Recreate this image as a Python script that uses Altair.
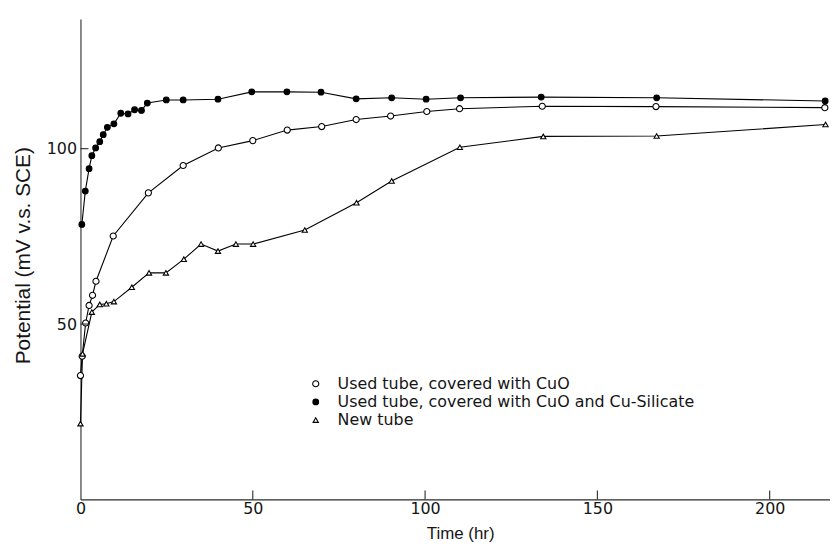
import altair as alt
import pandas as pd

series_names = [
    "Used tube, covered with CuO",
    "Used tube, covered with CuO and Cu-Silicate",
    "New tube",
]

# Used tube, covered with CuO (open circles)
t_cuo = [0, 0.5, 1.5, 2.5, 3.5, 4.5, 9.5, 19.7, 29.8, 40, 50, 60, 70, 80, 90, 100.5, 110, 134, 167, 216]
v_cuo = [35.3, 40.8, 50.3, 55.3, 58.2, 62.2, 75.1, 87.4, 95.2, 100.2, 102.3, 105.3, 106.3, 108.3, 109.3, 110.6, 111.4, 112.1, 112.0, 111.7]

# Used tube, covered with CuO and Cu-Silicate (filled circles)
t_sil = [0.4, 1.4, 2.5, 3.3, 4.4, 5.6, 6.6, 7.8, 9.7, 11.7, 13.8, 15.7, 17.7, 19.4, 24.9, 29.8, 39.9,
         49.7, 59.9, 69.8, 80, 90.3, 100.3, 110.3, 133.7, 167.2, 216.1]
v_sil = [78.4, 87.9, 94.3, 98.0, 100.2, 102.0, 104.0, 106.1, 107.1, 110.1, 109.9, 111.1, 110.9, 113.0,
         113.9, 113.9, 114.1, 116.2, 116.2, 116.1, 114.2, 114.5, 114.1, 114.5, 114.7, 114.5, 113.6]

# New tube (open triangles)
t_new = [0, 0.6, 3.3, 5.6, 7.5, 9.7, 14.9, 19.9, 24.8, 30, 35, 39.9, 45.1, 50.1, 65.1, 80.1, 90.3,
         110.1, 134.3, 167.2, 216.2]
v_new = [21.6, 41.5, 53.4, 55.6, 55.8, 56.4, 60.5, 64.6, 64.6, 68.5, 72.8, 70.8, 72.8, 72.8, 76.8,
         84.6, 90.8, 100.4, 103.5, 103.6, 106.9]

x_tick_values = [50, 100, 150, 200]
x_label_values = [0, 50, 100, 150, 200]
y_tick_values = [50, 100]

rows = []
for name, ts, vs in zip(series_names, [t_cuo, t_sil, t_new], [v_cuo, v_sil, v_new]):
    for t, v in zip(ts, vs):
        rows.append({"series": name, "time": t, "potential": v})
df = pd.DataFrame(rows)

W, H = 755, 484
x_scale = alt.Scale(domain=[0, 217.5], nice=False, zero=False)
y_scale = alt.Scale(domain=[0, 137], nice=False, zero=False)

INK = "#151515"

x_axis = alt.Axis(
    values=x_label_values, format="d", ticks=False, tickSize=0, grid=False,
    labelFlush=False, domainColor="#2a2a2a", domainWidth=1.1,
    labelFont="DejaVu Sans", labelFontSize=16, labelColor=INK, labelPadding=1,
    title="Time (hr)", titleFont="Liberation Sans", titleFontSize=17,
    titleFontWeight="normal", titleColor=INK, titlePadding=9, titleX=382.5,
)
y_axis = alt.Axis(
    values=y_tick_values, format="d", ticks=False, tickSize=0, grid=False,
    domainColor="#2a2a2a", domainWidth=1.1,
    labelFont="DejaVu Sans", labelFontSize=16, labelColor=INK, labelPadding=4,
    title="Potential (mV v.s. SCE)", titleFont="Liberation Sans", titleFontSize=21,
    titleFontWeight="normal", titleColor=INK, titleX=-51, titleY=238,
    titleAngle=270, titleBaseline="alphabetic", titleAlign="center",
)

leg = alt.Legend(
    title=None, orient="none", legendX=229, legendY=359.5,
    labelFont="DejaVu Sans", labelFontSize=16, labelColor=INK, labelLimit=600,
    labelOffset=14, rowPadding=2.3, padding=0,
    symbolStrokeWidth=1.1,
)

base = alt.Chart(df)

lines = base.mark_line(color="black", strokeWidth=1.1).encode(
    x=alt.X("time:Q", scale=x_scale, axis=x_axis),
    y=alt.Y("potential:Q", scale=y_scale, axis=y_axis),
    detail="series:N",
)

points = base.mark_point(filled=False, opacity=1, strokeWidth=1.1).encode(
    x=alt.X("time:Q", scale=x_scale),
    y=alt.Y("potential:Q", scale=y_scale),
    shape=alt.Shape("series:N", scale=alt.Scale(domain=series_names, range=["circle", "circle", "triangle-up"]), legend=leg),
    fill=alt.Fill("series:N", scale=alt.Scale(domain=series_names, range=["white", "black", "white"]), legend=leg),
    stroke=alt.Stroke("series:N", scale=alt.Scale(domain=series_names, range=["black", "black", "black"]), legend=leg),
    size=alt.Size("series:N", scale=alt.Scale(domain=series_names, range=[38, 28, 52]), legend=leg),
)

xt = alt.Chart(pd.DataFrame({"time": x_tick_values})).mark_rule(color="#2a2a2a", strokeWidth=1.1).encode(
    x=alt.X("time:Q", scale=x_scale),
    y=alt.value(H),
    y2=alt.value(H - 9),
)
yt = alt.Chart(pd.DataFrame({"potential": y_tick_values})).mark_rule(color="#2a2a2a", strokeWidth=1.1).encode(
    y=alt.Y("potential:Q", scale=y_scale),
    x=alt.value(0),
    x2=alt.value(8),
)

chart = alt.layer(lines, points, xt, yt).properties(
    width=W, height=H,
    autosize=alt.AutoSizeParams(type="none"),
    padding={"left": 73, "top": 9, "right": 0, "bottom": 52},
    background="white",
).configure_view(stroke=None)

chart.save("out.html", embed_options={"renderer": "svg", "actions": False})
